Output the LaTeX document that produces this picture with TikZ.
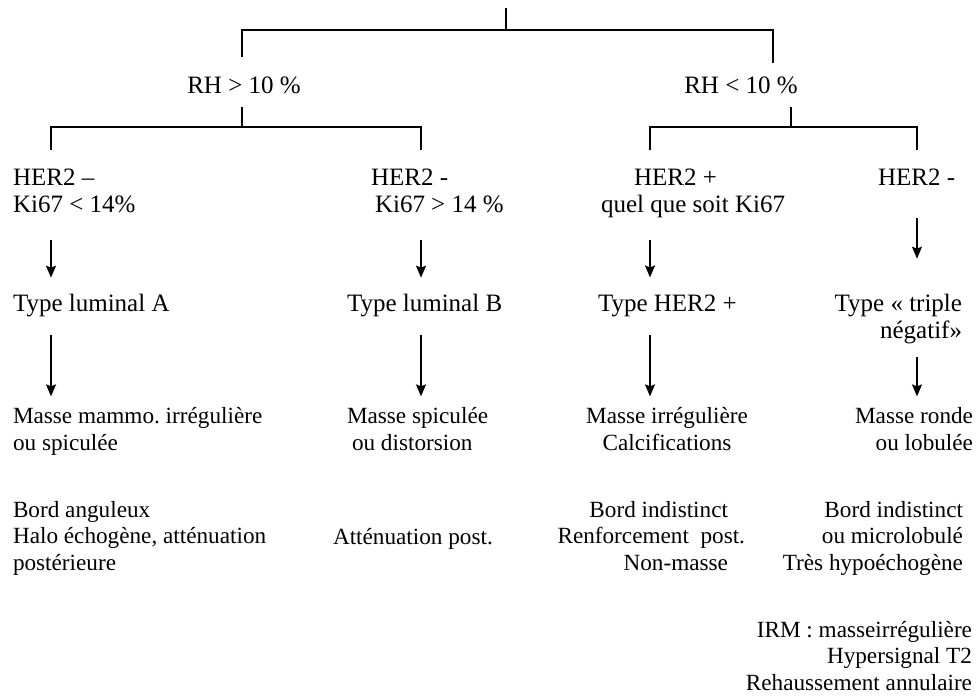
\documentclass[tikz,border=0pt]{standalone}
\usepackage{fontspec}
\setmainfont{Liberation Serif}
\usetikzlibrary{arrows.meta}

\begin{document}
\begin{tikzpicture}[x=0.5pt, y=-0.5pt,
    every node/.style={inner sep=0pt, outer sep=0pt},
    big/.style={font=\fontsize{12.5}{13.5}\selectfont},
    small/.style={font=\fontsize{11.6}{13.25}\selectfont},
    bracket/.style={line width=1pt},
    down/.style={line width=0.8pt, -{Stealth[length=6pt,width=5pt,inset=1pt]}}]

\useasboundingbox (0,0) rectangle (980,698);

\coordinate (root) at (506,8);
\coordinate (split) at (506,30);
\coordinate (b1) at (242,30);
\coordinate (b2) at (773,30);
\coordinate (j1) at (242,127);
\coordinate (j2) at (791,127);
\coordinate (cA) at (51,127);
\coordinate (cB) at (421,127);
\coordinate (cC) at (650,127);
\coordinate (cD) at (917,127);

\node[big, anchor=base] (rhp) at (244,93) {RH > 10 \%};
\node[big, anchor=base] (rhm) at (741,93) {RH < 10 \%};

\node[big, align=left, anchor=base west] (hA) at (13,212) {HER2 --\\Ki67 < 14\%};
\node[big, align=left, anchor=base west] (hB) at (371,212) {HER2 -\\\hspace*{2pt}Ki67 > 14 \%};
\node[big, align=left, anchor=base west] (hC) at (601,212) {\hspace*{16.5pt}HER2 +\\quel que soit Ki67};
\node[big, anchor=base west] (hD) at (878,185) {HER2 -};

\node[big, anchor=base west] (tA) at (13,311) {Type luminal A};
\node[big, anchor=base west] (tB) at (347,311) {Type luminal B};
\node[big, anchor=base west] (tC) at (598,311) {Type HER2 +};
\node[big, align=right, anchor=base east] (tD) at (962,338) {Type « triple\\négatif»};

\node[small, align=left, anchor=base west] (mA) at (13,450) {Masse mammo.\ irrégulière\\ou spiculée};
\node[small, align=left, anchor=base west] (mB) at (347,450) {Masse spiculée\\\hspace*{2.5pt}ou distorsion};
\node[small, align=center, anchor=base] (mC) at (667,450) {Masse irrégulière\\Calcifications};
\node[small, align=right, anchor=base east] (mD) at (973,450) {Masse ronde\\ou lobulée};

\node[small, align=left, anchor=base west] (eA) at (13,570) {Bord anguleux\\Halo échogène, atténuation\\postérieure};
\node[small, anchor=base west] (eB) at (333,544) {Atténuation post.};
\node[small, align=right, anchor=base east] (eC) at (745,570) {Bord indistinct\hspace*{8.5pt}\\Renforcement~ post.\\Non-masse\hspace*{8.5pt}};
\node[small, align=right, anchor=base east] (eD) at (963,570) {Bord indistinct\\ou microlobulé\\Très hypoéchogène};

\node[small, align=right, anchor=base east] (iD) at (972,690) {IRM : masseirrégulière\\Hypersignal T2\\Rehaussement annulaire};

\draw[bracket] (root) -- (split);
\draw[bracket, shorten <=9.5pt, shorten >=6.5pt] (rhp.north -| b1) |- (split) -| (rhm.north -| b2);
\draw[bracket, shorten <=7pt] (j1 |- rhp.base) -- (j1);
\draw[bracket, shorten <=9pt, shorten >=9pt] (cA |- hA.north) -- (cA) -- (cB) -- (cB |- hB.north);
\draw[bracket, shorten <=7pt] (j2 |- rhm.base) -- (j2);
\draw[bracket, shorten <=9pt, shorten >=9pt] (cC |- hC.north) -- (cC) -- (cD) -- (cD |- hD.north);

\draw[down, shorten <=14pt, shorten >=8pt] (cA |- hA.south) -- (cA |- tA.north);
\draw[down, shorten <=14pt, shorten >=8pt] (cB |- hB.south) -- (cB |- tB.north);
\draw[down, shorten <=11.3pt, shorten >=8.5pt] (cC |- hC.south) -- (cC |- tC.north);
\draw[down, shorten <=16.5pt, shorten >=17.5pt] (cD |- hD.south) -- (cD |- tD.north);

\draw[down, shorten <=9.3pt, shorten >=5.5pt] (cA |- tA.south) -- (cA |- mA.north);
\draw[down, shorten <=9.3pt, shorten >=5.5pt] (cB |- tB.south) -- (cB |- mB.north);
\draw[down, shorten <=9.3pt, shorten >=5.5pt] (cC |- tC.south) -- (cC |- mC.north);
\draw[down, shorten <=6.8pt, shorten >=5.5pt] (cD |- tD.south) -- (cD |- mD.north);
\end{tikzpicture}
\end{document}
